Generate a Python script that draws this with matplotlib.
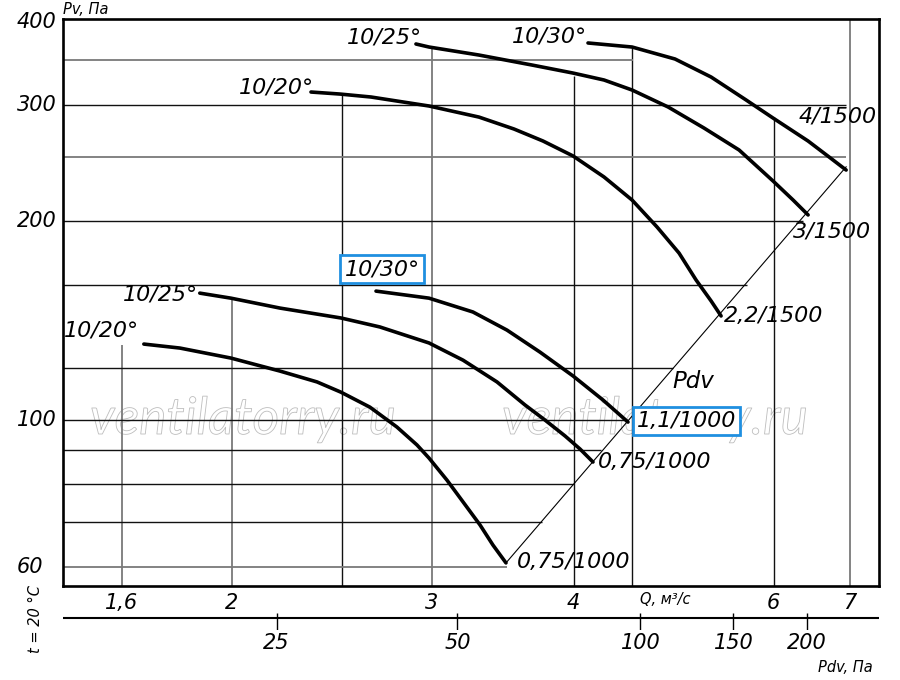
import matplotlib
matplotlib.use('Agg')
import matplotlib.pyplot as plt
import matplotlib.patheffects as pe
from matplotlib.transforms import blended_transform_factory

plt.rcParams['font.family'] = ['DejaVu Sans']

# ---- axis ranges and ticks ----
q_min, q_max = 1.42, 7.43
pv_min, pv_max = 56.1, 404.3

q_ticks = [1.6, 2, 3, 4, 6, 7]
q_tick_labels = ['1,6', '2', '3', '4', '6', '7']
pv_ticks = [60, 100, 200, 300, 400]
pv_tick_labels = ['60', '100', '200', '300', '400']
pdv_tick_q = [2.19, 3.16, 4.58, 5.53, 6.42]
pdv_tick_labels = ['25', '50', '100', '150', '200']

# ---- grid (drawn only inside the working region) ----
vgrid_q = [1.6, 2, 2.5, 3, 4, 4.5, 6, 7]
vgrid_top = [130, 152, 310, 365, 332, 367, 287, 404.3]
vgrid_dark = [False, False, True, False, True, True, True, False]
hgrid_pv = [60, 70, 80, 90, 100, 120, 160, 200, 250, 300, 350]
hgrid_right = [3.494, 3.752, 3.996, 4.229, 4.458, 4.893, 5.686, 6.371, 6.95, 6.95, 4.512]
hgrid_dark = [False, True, True, True, True, True, True, True, False, True, False]

# ---- fan curves: Q (m3/s), Pv (Pa) ----
curve_a_q = [1.673, 1.800, 1.996, 2.205, 2.377, 2.495, 2.646, 2.795, 2.911, 2.983,
             3.094, 3.196, 3.308, 3.396, 3.487]
curve_a_pv = [130.3, 128.5, 124.1, 118.6, 114.2, 110.2, 104.6, 97.6, 91.7, 87.6,
              81.1, 75.2, 69.4, 64.7, 60.8]
curve_b_q = [1.874, 1.996, 2.205, 2.495, 2.700, 2.983, 3.196, 3.424, 3.624, 3.774,
             3.931, 4.052, 4.160]
curve_b_pv = [155.6, 152.9, 147.7, 142.7, 138.3, 130.8, 123.2, 114.2, 105.4, 100.0,
              94.6, 90.4, 86.4]
curve_c_q = [2.679, 2.983, 3.261, 3.494, 3.736, 3.995, 4.246, 4.466]
curve_c_pv = [156.7, 152.9, 145.7, 136.8, 126.7, 116.6, 107.2, 99.3]
curve_d_q = [2.348, 2.490, 2.652, 2.983, 3.301, 3.544, 3.759, 3.995, 4.254, 4.503,
             4.737, 4.953, 5.127, 5.286, 5.394]
curve_d_pv = [313.5, 311.3, 308.1, 298.6, 287.3, 275.6, 264.3, 250.9, 233.2, 215.2,
              195.9, 178.9, 162.9, 151.4, 143.7]
curve_e_q = [2.905, 2.983, 3.301, 3.676, 3.995, 4.254, 4.503, 4.844, 5.211, 5.594,
             5.994, 6.242, 6.435]
curve_e_pv = [370.6, 366.7, 356.6, 344.4, 334.9, 326.9, 315.7, 297.6, 276.5, 256.2,
              229.9, 215.2, 204.3]
curve_f_q = [4.118, 4.503, 4.913, 5.286, 5.675, 5.994, 6.435, 6.715, 6.951]
curve_f_pv = [371.9, 366.7, 351.7, 330.3, 304.9, 286.3, 264.3, 250.0, 238.9]

curve_names = ['10/20°', '10/25°', '10/30°', '10/20°', '10/25°', '10/30°']
curve_motors = ['0,75/1000', '0,75/1000', '1,1/1000', '2,2/1500', '3/1500', '4/1500']

# Pdv line: Pv = Pdv = k * Q^2
pdv_k = 5.0
pdv_line_q = [3.487, 6.951]

fig = plt.figure(figsize=(9, 6.8), dpi=100)
L, R, T, B = 63, 879, 19, 586
ax = fig.add_axes([L / 900, 1 - B / 680, (R - L) / 900, (B - T) / 680])
ax.set_xscale('log')
ax.set_yscale('log')
ax.set_xlim(q_min, q_max)
ax.set_ylim(pv_min, pv_max)
ax.minorticks_off()
ax.set_xticks(q_ticks)
ax.set_xticklabels(q_tick_labels, fontsize=15, style='italic')
ax.tick_params(axis='x', length=0, pad=5)
ax.set_yticks([])
for s in ax.spines.values():
    s.set_linewidth(1.9)
    s.set_color('black')

gray, dark = '#7a7a7a', '#111111'
for q, top, d in zip(vgrid_q, vgrid_top, vgrid_dark):
    ax.vlines(q, pv_min, top, colors=dark if d else gray,
              lw=1.0 if d else 1.3, zorder=1)
for pv, right, d in zip(hgrid_pv, hgrid_right, hgrid_dark):
    ax.hlines(pv, q_min, right, colors=dark if d else gray,
              lw=1.0 if d else 1.3, zorder=1)

# watermark (outlined, transparent letters, under the grid)
for fx in (243 / 900, 655 / 900):
    ax.text(fx, 1 - 420 / 680, 'ventilatorry.ru', fontsize=37, family='Lato',
            style='italic', transform=fig.transFigure, ha='center', va='center',
            color='none', zorder=0.5,
            path_effects=[pe.Stroke(linewidth=0.6, foreground='#bdbdbd')])

# Pdv line
ax.plot(pdv_line_q, [pdv_k * q * q for q in pdv_line_q], color='black', lw=0.8, zorder=3)

curves = [(curve_a_q, curve_a_pv), (curve_b_q, curve_b_pv), (curve_c_q, curve_c_pv),
          (curve_d_q, curve_d_pv), (curve_e_q, curve_e_pv), (curve_f_q, curve_f_pv)]
for q, pv in curves:
    ax.plot(q, pv, color='black', lw=2.6, solid_capstyle='round',
            solid_joinstyle='round', zorder=4)

box = dict(boxstyle='square,pad=0.18', fc='white', ec='#1f8fe0', lw=2)
start_off = [(-5, 14, 'right', False), (-2, -1, 'right', False), (6, 22, 'center', True),
             (3, 5, 'right', False), (6, 6, 'right', False), (-1, 6, 'right', False)]
end_off = [(11, 1, False), (5, 0, False), (9, 1, True),
           (3, 0, False), (-15, -17, False), (-48, 54, False)]
for (q, pv), name, motor, so, eo in zip(curves, curve_names, curve_motors, start_off, end_off):
    ax.annotate(name, (q[0], pv[0]), xytext=(so[0], so[1]), textcoords='offset pixels',
                ha=so[2], va='center', fontsize=16, style='italic', zorder=5,
                bbox=box if so[3] else None)
    ax.annotate(motor, (q[-1], pv[-1]), xytext=(eo[0], eo[1]), textcoords='offset pixels',
                ha='left', va='center', fontsize=16, style='italic', zorder=5,
                bbox=box if eo[2] else None)

ax.text(5.1, 114.5, 'Pdv', fontsize=16.5, style='italic', ha='center', va='center')

# y labels (left aligned)
tr = blended_transform_factory(fig.transFigure, ax.transData)
for v, lab in zip(pv_ticks, pv_tick_labels):
    ax.text(17 / 900, v, lab, transform=tr, ha='left', va='center', fontsize=15,
            style='italic', clip_on=False)

fig.text(63 / 900, 1 - 9 / 680, 'Pv, Па', fontsize=10.5, style='italic', ha='left', va='center')
fig.text(665 / 900, 1 - 600 / 680, 'Q, м³/с', fontsize=10.5, style='italic', ha='center', va='center')
fig.text(845 / 900, 1 - 667 / 680, 'Pdv, Па', fontsize=10.5, style='italic', ha='center', va='center')
fig.text(35 / 900, 1 - 619 / 680, 't = 20 °C', fontsize=10.5, style='italic', rotation=90,
         ha='center', va='center')

# secondary Pdv scale
ax2 = fig.add_axes([L / 900, 1 - 630 / 680, (R - L) / 900, 17 / 680])
ax2.set_xscale('log')
ax2.set_xlim(q_min, q_max)
ax2.set_ylim(0, 1)
ax2.minorticks_off()
for s in ax2.spines.values():
    s.set_visible(False)
ax2.patch.set_alpha(0)
ax2.set_yticks([])
ax2.axhline(12 / 17, color='black', lw=1.5)
ax2.vlines(pdv_tick_q, 0, 1, color='black', lw=1.0)
ax2.set_xticks(pdv_tick_q)
ax2.set_xticklabels(pdv_tick_labels, fontsize=15, style='italic')
ax2.tick_params(axis='x', length=0, pad=2)

fig.savefig('out.png', dpi=100)
